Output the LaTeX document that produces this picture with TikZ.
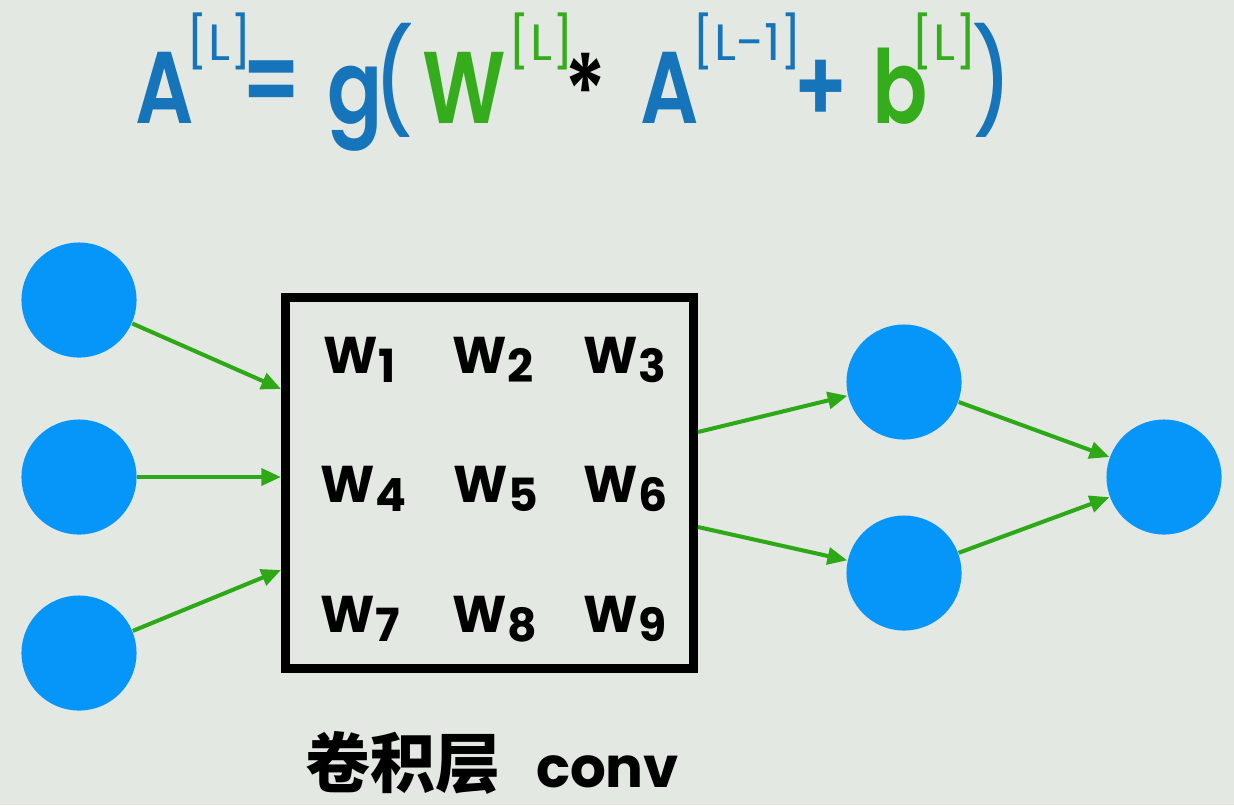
\documentclass[tikz,border=0pt]{standalone}
\usepackage{fontspec}
\setmainfont{Poppins}
\newfontfamily\eqfont[FakeStretch=0.8, BoldFont={Poppins SemiBold}]{Poppins}
\newfontfamily\parfont[FakeStretch=0.8]{Poppins Medium}
\newfontfamily\cjkfont{Noto Sans CJK SC}
\usetikzlibrary{arrows.meta}

\definecolor{paper}{RGB}{227,232,226}
\definecolor{unitblue}{RGB}{6,150,250}
\definecolor{linkgreen}{RGB}{45,168,22}
\definecolor{eqblue}{RGB}{22,116,186}
\definecolor{eqgreen}{RGB}{52,172,28}

% weight with its index set low
\newcommand{\wsub}[1]{W\raisebox{-2.6pt}{\fontsize{13}{13}\selectfont #1}}

\tikzset{
  unit/.style={circle, fill=unitblue, minimum size=1.15cm, inner sep=0pt},
  link/.style={-{Triangle[length=5.6pt,width=4.8pt]}, linkgreen, line width=1.15pt},
  eq/.style={inner sep=0pt, anchor=base west, font=\eqfont\fontsize{29}{32}\selectfont\bfseries},
  lay/.style={inner sep=0pt, anchor=north west, font=\fontsize{14.5}{16}\selectfont},
  wt/.style={inner sep=0pt, anchor=base west, font=\bfseries\fontsize{14.7}{16}\selectfont},
}

\begin{document}
\begin{tikzpicture}[x=0.01cm, y=-0.01cm]
\fill[paper] (0,0) rectangle (1234,805);

% Formula
\node[eq, eqblue] (eqA) at (135,123) {A};
\node[lay, eqblue] (supA) at (186,12) {[L]};
\node[eq, eqblue, anchor=center] (eqeq) at (272,88) {=};
\node[eq, eqblue] (eqg) at (327,123) {g};
\node[eq, eqblue, anchor=center, font=\parfont\fontsize{29}{32}\selectfont] (lpar) at (394,80) {(};
\node[eq, eqgreen] (eqW) at (422,123) {W};
\node[lay, eqgreen] (supW) at (508,12) {[L]};
\node[eq, black, anchor=center] (star) at (586,91) {*};
\node[eq, eqblue] (eqA2) at (640,123) {A};
\node[lay, eqblue] (supA2) at (692,12) {[L-1]};
\node[eq, eqblue, anchor=center] (plus) at (821,91) {+};
\node[eq, eqgreen] (eqb) at (872,123) {b};
\node[lay, eqgreen] (supb) at (911,12) {[L]};
\node[eq, eqblue, anchor=center, font=\parfont\fontsize{29}{32}\selectfont] (rpar) at (993,80) {)};

% Input units
\node[unit] (in1) at (79,300) {};
\node[unit] (in2) at (79,477) {};
\node[unit] (in3) at (79,653) {};

% Conv kernel
\node[draw, line width=2.56pt, minimum width=4.08cm, minimum height=3.71cm, inner sep=0pt] (conv) at (489.5,483) {};
\node[wt] (w1) at (323,373) {\wsub{1}};
\node[wt] (w2) at (452,373) {\wsub{2}};
\node[wt] (w3) at (583,373) {\wsub{3}};
\node[wt] (w4) at (320,502) {\wsub{4}};
\node[wt] (w5) at (453,502) {\wsub{5}};
\node[wt] (w6) at (583,502) {\wsub{6}};
\node[wt] (w7) at (320,632) {\wsub{7}};
\node[wt] (w8) at (452,632) {\wsub{8}};
\node[wt] (w9) at (583,632) {\wsub{9}};
\node[inner sep=0pt, anchor=base west] (convlabel) at (305,787)
  {{\cjkfont\bfseries\fontsize{18.5}{20}\selectfont 卷积层}\hspace{10pt}{\bfseries\fontsize{16}{18}\selectfont conv}};

% Next layers
\node[unit] (h1) at (904,382) {};
\node[unit] (h2) at (904,573) {};
\node[unit] (y) at (1164,477) {};

% Connections
\coordinate (e1) at (281,389);
\coordinate (e2) at (281,477);
\coordinate (e3) at (281,570);
\coordinate (x1) at (698,432);
\coordinate (x2) at (698,527);

\draw[link] (in1) -- (e1);
\draw[link] (in2) -- (e2);
\draw[link] (in3) -- (e3);
\draw[link] (x1) -- (h1);
\draw[link] (x2) -- (h2);
\draw[link] (h1) -- (y);
\draw[link] (h2) -- (y);
\end{tikzpicture}
\end{document}
